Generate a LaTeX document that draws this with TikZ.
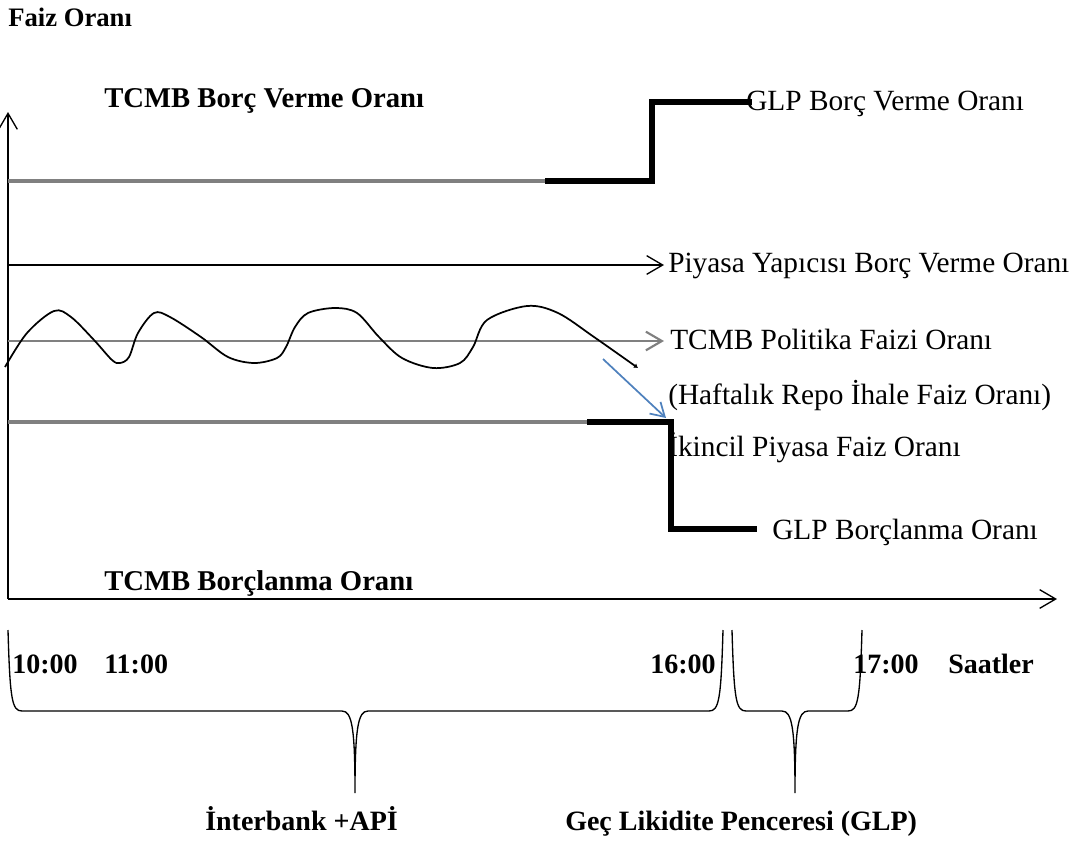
\documentclass[tikz,border=0pt]{standalone}
\usepackage{fontspec}
\setmainfont{Liberation Serif}
\usetikzlibrary{arrows.meta}
\definecolor{lgray}{HTML}{808080}
\definecolor{oblue}{HTML}{4F81BD}
\begin{document}
\begin{tikzpicture}[x=0.75pt,y=-0.75pt,
  lbl/.style={inner sep=0pt, anchor=base west, font=\fontsize{22}{26}\selectfont},
  blbl/.style={inner sep=0pt, anchor=base west, font=\bfseries\fontsize{21.5}{25}\selectfont},
  tip/.style={-{Straight Barb[length=12pt,width=14pt,line width=1pt]}},
  axisline/.style={line width=1pt, tip},
  grayline/.style={line width=2.3pt, color=lgray},
  thickline/.style={line width=3.8pt, line join=miter, line cap=butt},
  bracestyle/.style={line width=1pt},
]
\useasboundingbox (0,0) rectangle (1086,847);

% texts
\node[blbl, font=\bfseries\fontsize{20}{24}\selectfont] (faiz) at (8,26) {Faiz Oranı};
\node[blbl] (tcmbv) at (104,107) {TCMB Borç Verme Oranı};
\node[lbl] (glpv) at (746,110) {GLP Borç Verme Oranı};
\node[lbl] (piy) at (668,272) {Piyasa Yapıcısı Borç Verme Oranı};
\node[lbl] (pol) at (670,349) {TCMB Politika Faizi Oranı};
\node[lbl] (haft) at (668,404) {(Haftalık Repo İhale Faiz Oranı)};
\node[lbl] (ikin) at (668,456) {İkincil Piyasa Faiz Oranı};
\node[lbl] (glpb) at (772,539) {GLP Borçlanma Oranı};
\node[blbl] (tcmbb) at (104,590) {TCMB Borçlanma Oranı};
\node[blbl, font=\bfseries\fontsize{21}{25}\selectfont] (t10) at (12,673) {10:00};
\node[blbl, font=\bfseries\fontsize{21}{25}\selectfont] (t11) at (104,673) {11:00};
\node[blbl, font=\bfseries\fontsize{21}{25}\selectfont] (t16) at (650,673) {16:00};
\node[blbl, font=\bfseries\fontsize{21}{25}\selectfont] (t17) at (853,673) {17:00};
\node[blbl, font=\bfseries\fontsize{21}{25}\selectfont] (saat) at (948,673) {Saatler};
\node[blbl, font=\bfseries\fontsize{21}{25}\selectfont] (inter) at (205,830) {İnterbank +APİ};
\node[blbl, font=\bfseries\fontsize{21}{25}\selectfont] (gec) at (565,830) {Geç Likidite Penceresi (GLP)};

% coordinates
\coordinate (o) at (8,599);
\coordinate (ytop) at (8,112);
\coordinate (xend) at (1057,599);
\coordinate (u0) at (8,181);
\coordinate (u1) at (545,181);
\coordinate (u2) at (652,181);
\coordinate (u3) at (652,102);
\coordinate (u4) at (752,102);
\coordinate (m0) at (8,265);
\coordinate (m1) at (664,265);
\coordinate (p0) at (8,341);
\coordinate (p1) at (664,341);
\coordinate (l0) at (8,422);
\coordinate (l1) at (587,422);
\coordinate (l2) at (671,422);
\coordinate (l3) at (671,529);
\coordinate (l4) at (757,529);
\coordinate (b0) at (603,359);
\coordinate (b1) at (666,418);

% axes
\draw[axisline] (o) -- (ytop);
\draw[axisline] (o) -- (xend);

% upper lending rate
\draw[grayline] (u0) -- (u1);
\draw[thickline] (u1) -- (u2) -- (u3) -- (u4);

% market maker
\draw[line width=1pt, tip] (m0) -- (m1);

% policy rate
\draw[grayline, line width=1.6pt, -{Straight Barb[length=12pt,width=14pt,line width=1.6pt]}] (p0) -- (p1);

% lower rate
\draw[grayline] (l0) -- (l1);
\draw[thickline] (l1) -- (l2) -- (l3) -- (l4);

% wave
\draw[line width=1.3pt, -{Latex[length=3pt,width=4pt]}] plot[smooth, tension=0.55] coordinates {
(5,367) (27,333) (54,311) (71,317) (94,340) (112,360) (120,363) (129,357) (138,333) (154,313)
(170,317) (201,337) (228,357) (254,363) (277,358) (286,347) (295,327) (308,313) (335,308)
(357,313) (379,337) (402,358) (433,368) (460,363) (473,347) (487,320) (527,306) (558,313)
(594,337) (638,368)};

% blue arrow
\draw[oblue, line width=1.3pt, -{Straight Barb[length=10pt,width=12pt,line width=1.3pt]}] (b0) -- (b1);

% braces
\draw[bracestyle] (8,630) .. controls (10,700) and (12,711) .. (22,711) -- (342,711)
  .. controls (352,711) and (355,728) .. (355,793)
  .. controls (355,728) and (358,711) .. (368,711) -- (709,711)
  .. controls (719,711) and (721,700) .. (723,630);
\draw[bracestyle] (732,630) .. controls (734,700) and (736,711) .. (746,711) -- (782,711)
  .. controls (792,711) and (795,728) .. (795,793)
  .. controls (795,728) and (798,711) .. (808,711) -- (848,711)
  .. controls (858,711) and (860,700) .. (862,630);
\end{tikzpicture}
\end{document}
